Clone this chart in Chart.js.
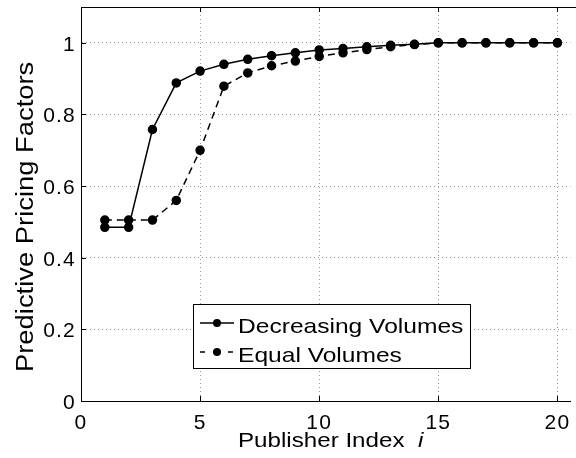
<!DOCTYPE html>
<html>
<head>
<meta charset="utf-8">
<script src="https://cdn.jsdelivr.net/npm/chart.js@4/dist/chart.umd.min.js"></script>
<style>
  html, body { margin: 0; padding: 0; background: #fff; }
  #wrap { width: 576px; height: 458px; }
</style>
</head>
<body>
<div id="wrap"><canvas id="pricingChart" width="576" height="458"></canvas></div>
<script>
// data
const publishers = [1, 2, 3, 4, 5, 6, 7, 8, 9, 10, 11, 12, 13, 14, 15, 16, 17, 18, 19, 20];
const decreasingVolumes = [0.485, 0.485, 0.758, 0.888, 0.921, 0.940, 0.954, 0.964, 0.972, 0.980,
                           0.984, 0.989, 0.993, 0.996, 1.0, 1.0, 1.0, 1.0, 1.0, 1.0];
const equalVolumes = [0.505, 0.505, 0.505, 0.560, 0.700, 0.879, 0.916, 0.936, 0.949, 0.962,
                      0.972, 0.981, 0.989, 0.995, 1.0, 1.0, 1.0, 1.0, 1.0, 1.0];
const xTicks = [0, 5, 10, 15, 20];
const yTicks = [0, 0.2, 0.4, 0.6, 0.8, 1];

const FONT = "'Liberation Sans', Arial, sans-serif";

function toPoints(values) {
  return publishers.map((p, i) => ({ x: p, y: values[i] }));
}

// the reference glyphs are a little wider than Arial
const spacing = {
  id: "spacing",
  beforeDraw(chart) {
    chart.ctx.letterSpacing = "1.2px";
  }
};

// draw text stretched along its reading direction
function wideText(c, str, x, y, font, stretch) {
  c.save();
  c.translate(x, y);
  c.scale(stretch, 1);
  c.font = font;
  c.fillText(str, 0, 0);
  const w = c.measureText(str).width * stretch;
  c.restore();
  return w;
}

// top border, inward tick marks, axis titles, legend box
const extras = {
  id: "extras",
  afterDraw(chart) {
    const c = chart.ctx;
    const a = chart.chartArea;
    const xs = chart.scales.x;
    const ys = chart.scales.y;
    c.save();
    c.letterSpacing = "0px";
    c.setLineDash([]);
    c.strokeStyle = "#000";
    c.lineWidth = 1;
    c.beginPath();
    c.moveTo(a.left, a.top + 0.5);
    c.lineTo(576, a.top + 0.5);
    xTicks.forEach(v => {
      const px = Math.round(xs.getPixelForValue(v)) + 0.5;
      c.moveTo(px, a.bottom); c.lineTo(px, a.bottom - 5);
      c.moveTo(px, a.top); c.lineTo(px, a.top + 5);
    });
    yTicks.forEach(v => {
      const py = Math.round(ys.getPixelForValue(v)) + 0.5;
      c.moveTo(a.left, py); c.lineTo(a.left + 5, py);
    });
    c.stroke();

    c.fillStyle = "#000";
    c.textBaseline = "alphabetic";
    c.textAlign = "left";

    // y axis title, rotated
    c.save();
    c.translate(33, 372);
    c.rotate(-Math.PI / 2);
    wideText(c, "Predictive Pricing Factors", 0, 0, "23px " + FONT, 1.19);
    c.restore();

    // x axis title, italic i
    const w1 = wideText(c, "Publisher Index  ", 238, 447, "21px " + FONT, 1.15);
    wideText(c, "i", 238 + w1, 447, "italic 21px " + FONT, 1.15);

    // legend inside the axes
    const lx = 193, ly = 304, lw = 277, lh = 64;
    c.fillStyle = "#fff";
    c.fillRect(lx, ly, lw, lh);
    c.strokeRect(lx + 0.5, ly + 0.5, lw, lh);
    const rows = [
      { label: chart.data.datasets[0].label, dash: [], y: ly + 19 },
      { label: chart.data.datasets[1].label, dash: [5, 23], y: ly + 48 }
    ];
    rows.forEach(r => {
      c.setLineDash(r.dash);
      c.lineWidth = 1.5;
      c.beginPath();
      c.moveTo(lx + 7, r.y);
      c.lineTo(lx + 41, r.y);
      c.stroke();
      c.setLineDash([]);
      c.beginPath();
      c.arc(lx + 24, r.y, 4, 0, Math.PI * 2);
      c.fillStyle = "#000";
      c.fill();
      wideText(c, r.label, lx + 45, r.y + 10, "21px " + FONT, 1.17);
    });
    c.restore();
  }
};

const ctx = document.getElementById("pricingChart").getContext("2d");
const pricingChart = new Chart(ctx, {
  type: "line",
  data: {
    datasets: [
      {
        label: "Decreasing Volumes",
        data: toPoints(decreasingVolumes),
        borderColor: "#000",
        backgroundColor: "#000",
        borderWidth: 1.5,
        pointRadius: 4,
        pointHoverRadius: 4,
        tension: 0,
        fill: false
      },
      {
        label: "Equal Volumes",
        data: toPoints(equalVolumes),
        borderColor: "#000",
        backgroundColor: "#000",
        borderWidth: 1.5,
        borderDash: [7, 5],
        pointRadius: 4,
        pointHoverRadius: 4,
        tension: 0,
        fill: false
      }
    ]
  },
  options: {
    responsive: false,
    animation: false,
    layout: { padding: { top: 7, right: 0, left: 0, bottom: 0 } },
    plugins: {
      legend: { display: false },
      tooltip: { enabled: false }
    },
    scales: {
      x: {
        type: "linear",
        min: 0,
        max: 20.55,
        afterBuildTicks: s => { s.ticks = xTicks.map(v => ({ value: v })); },
        afterFit: s => { s.height = 57; s.paddingLeft = 0; s.paddingRight = 0; },
        ticks: {
          color: "#000",
          padding: 10,
          maxRotation: 0,
          font: { family: FONT, size: 21 }
        },
        grid: { color: "#999", drawTicks: false },
        border: { display: true, color: "#000", width: 1, dash: [1, 3] }
      },
      y: {
        min: 0,
        max: 1.1,
        afterBuildTicks: s => { s.ticks = yTicks.map(v => ({ value: v })); },
        afterFit: s => { s.width = 81; s.paddingTop = 0; s.paddingBottom = 0; },
        ticks: {
          color: "#000",
          padding: 5,
          labelOffset: 2,
          font: { family: FONT, size: 21 },
          callback: v => String(Number(v.toFixed(1)))
        },
        grid: { color: "#999", drawTicks: false },
        border: { display: true, color: "#000", width: 1, dash: [1, 3] }
      }
    }
  },
  plugins: [spacing, extras]
});
</script>
</body>
</html>
